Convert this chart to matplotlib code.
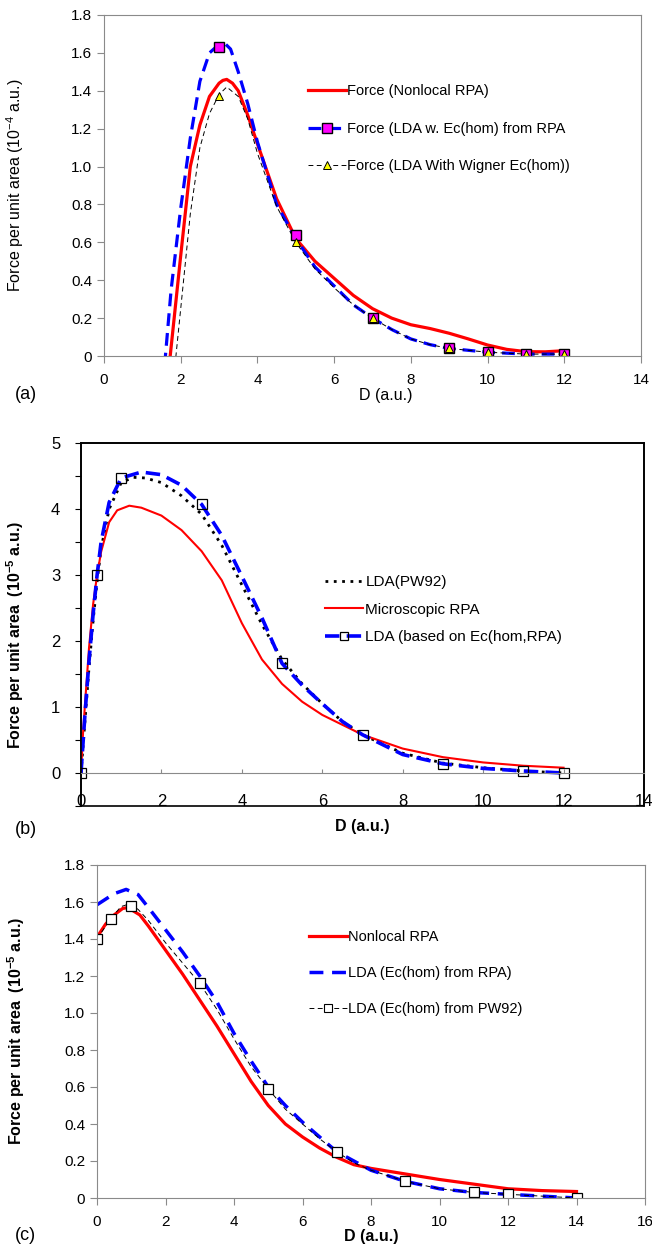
import matplotlib
matplotlib.use("Agg")
import matplotlib.pyplot as plt
from matplotlib.lines import Line2D
from matplotlib.patches import Rectangle
from matplotlib.ticker import MultipleLocator, FuncFormatter

plt.rcParams['font.family'] = ['Liberation Sans', 'DejaVu Sans']
plt.rcParams['mathtext.fontset'] = 'custom'
plt.rcParams['mathtext.rm'] = 'Liberation Sans'
plt.rcParams['mathtext.bf'] = 'Liberation Sans:bold'
plt.rcParams['mathtext.default'] = 'regular'

# ---- panel (a), 10^-4 a.u. ----
red_a_x = [1.7, 2.0, 2.25, 2.5, 2.75, 3.0, 3.1, 3.2, 3.35, 3.5, 3.75, 4.0, 4.5, 5.0, 5.5, 6.0, 6.5,
           7.0, 7.5, 8.0, 8.5, 9.0, 9.5, 10.0, 10.5, 11.0, 11.5, 12.0]
red_a_y = [-0.05, 0.53, 1.0, 1.22, 1.37, 1.44, 1.455, 1.46, 1.44, 1.40, 1.27, 1.12, 0.83, 0.62, 0.50,
           0.41, 0.32, 0.25, 0.20, 0.165, 0.145, 0.12, 0.09, 0.058, 0.035, 0.023, 0.022, 0.028]
blue_a_x = [1.58, 1.75, 2.0, 2.25, 2.5, 2.75, 3.0, 3.15, 3.3, 3.5, 3.75, 4.0, 4.5, 5.0, 5.5,
            6.0, 6.5, 7.0, 7.5, 8.0, 8.5, 9.0, 10.0, 11.0, 12.0]
blue_a_y = [-0.05, 0.35, 0.78, 1.15, 1.45, 1.60, 1.645, 1.65, 1.62, 1.50, 1.33, 1.13, 0.80, 0.62, 0.47,
            0.37, 0.27, 0.20, 0.14, 0.09, 0.06, 0.04, 0.02, 0.01, 0.01]
blue_a_mx = [3, 5, 7, 9, 10, 11, 12]
blue_a_my = [1.63, 0.64, 0.20, 0.04, 0.02, 0.01, 0.01]
wig_a_x = [1.85, 2.0, 2.25, 2.5, 2.75, 3.0, 3.2, 3.5, 3.75, 4.0, 4.5, 5.0, 5.5, 6.0, 6.5,
           7.0, 7.5, 8.0, 8.5, 9.0, 10.0, 11.0, 12.0]
wig_a_y = [-0.05, 0.25, 0.75, 1.10, 1.28, 1.38, 1.42, 1.37, 1.25, 1.07, 0.79, 0.60, 0.46, 0.36, 0.27,
           0.20, 0.14, 0.09, 0.06, 0.04, 0.02, 0.01, 0.01]
wig_a_mx = [3, 5, 7, 9, 10, 11, 12]
wig_a_my = [1.37, 0.60, 0.20, 0.04, 0.02, 0.01, 0.01]

# ---- panel (b), 10^-5 a.u. ----
red_b_x = [0, 0.05, 0.1, 0.2, 0.3, 0.4, 0.5, 0.7, 0.9, 1.2, 1.5, 2.0, 2.5, 3.0, 3.5, 4.0,
           4.5, 5.0, 5.5, 6.0, 7.0, 8.0, 9.0, 10.0, 11.0, 12.0]
red_b_y = [0, 0.6, 1.05, 1.9, 2.55, 3.0, 3.35, 3.8, 3.98, 4.05, 4.02, 3.9, 3.68, 3.36, 2.92, 2.27,
           1.72, 1.35, 1.08, 0.88, 0.58, 0.37, 0.24, 0.16, 0.11, 0.08]
blue_b_x = [0, 0.1, 0.2, 0.3, 0.4, 0.5, 0.7, 1.0, 1.5, 2.0, 2.5, 3.0, 3.5, 4.0, 4.5, 5.0,
            5.5, 6.0, 6.5, 7.0, 8.0, 9.0, 10.0, 11.0, 12.0]
blue_b_y = [0, 0.9, 1.7, 2.4, 3.0, 3.5, 4.1, 4.47, 4.56, 4.52, 4.36, 4.07, 3.6, 2.98, 2.35, 1.66,
            1.33, 1.05, 0.78, 0.58, 0.28, 0.14, 0.07, 0.03, 0.0]
pw_b_x = [0, 0.1, 0.2, 0.3, 0.4, 0.5, 0.7, 1.0, 1.3, 1.6, 2.0, 2.5, 3.0, 3.5, 4.0, 4.5,
          5.0, 5.5, 6.0, 6.5, 7.0, 8.0, 9.0, 10.0, 11.0, 12.0]
pw_b_y = [0, 0.8, 1.6, 2.3, 2.9, 3.4, 4.0, 4.4, 4.48, 4.47, 4.4, 4.2, 3.92, 3.45, 2.85, 2.25,
          1.72, 1.35, 1.05, 0.78, 0.58, 0.30, 0.15, 0.08, 0.03, 0.0]
sq_b_x = [0, 0.4, 1, 3, 5, 7, 9, 11, 12]
sq_b_y = [0, 3.0, 4.47, 4.07, 1.66, 0.58, 0.14, 0.03, 0.0]

# ---- panel (c), 10^-5 a.u. ----
red_c_x = [0, 0.25, 0.5, 0.75, 0.9, 1.25, 1.5, 2, 2.5, 3, 3.5, 4, 4.5, 5, 5.5, 6, 6.5,
           7, 7.5, 8, 9, 10, 11, 12, 13, 14]
red_c_y = [1.41, 1.48, 1.53, 1.565, 1.57, 1.53, 1.47, 1.34, 1.21, 1.07, 0.93, 0.78, 0.63, 0.50,
           0.40, 0.33, 0.27, 0.22, 0.18, 0.16, 0.13, 0.10, 0.075, 0.05, 0.04, 0.035]
blue_c_x = [0, 0.25, 0.5, 0.85, 1.2, 1.5, 2, 2.5, 3, 3.5, 4, 4.5, 5, 5.5, 6, 6.5, 7, 7.5,
            8, 9, 10, 11, 12, 13, 14]
blue_c_y = [1.585, 1.615, 1.645, 1.668, 1.64, 1.57, 1.45, 1.33, 1.20, 1.06, 0.89, 0.74, 0.60,
            0.50, 0.41, 0.33, 0.25, 0.20, 0.15, 0.09, 0.05, 0.03, 0.02, 0.01, 0.0]
pw_c_x = [0, 0.4, 0.7, 0.95, 1.2, 1.5, 2, 2.5, 3, 3.5, 4, 4.5, 5, 5.5, 6, 6.5, 7, 7.5,
          8, 9, 10, 11, 12, 13, 14]
pw_c_y = [1.40, 1.51, 1.575, 1.59, 1.56, 1.50, 1.38, 1.27, 1.16, 1.02, 0.86, 0.71, 0.59,
          0.48, 0.40, 0.32, 0.25, 0.19, 0.15, 0.09, 0.05, 0.03, 0.02, 0.01, 0.0]
sq_c_x = [0, 0.4, 1, 3, 5, 7, 9, 11, 12, 14]
sq_c_y = [1.40, 1.51, 1.58, 1.16, 0.59, 0.25, 0.09, 0.03, 0.02, 0.0]

W, H = 652, 1245
fig = plt.figure(figsize=(W / 100, H / 100), dpi=100)


def box(l, t, r, b):
    return [l / W, 1 - b / H, (r - l) / W, (b - t) / H]


def dec_fmt(v, pos):
    return '0' if abs(v) < 1e-9 else f'{v:.1f}'


grey = '#8a8a8a'

# ================= (a) =================
ax = fig.add_axes(box(104, 15, 641, 356))
ax.plot(red_a_x, red_a_y, color='#ff0000', lw=2.3, solid_capstyle='butt')
ax.plot(blue_a_x, blue_a_y, color='#0000ff', lw=2.3, dashes=(4, 2.2))
ax.plot(wig_a_x, wig_a_y, color='black', lw=0.7, dashes=(5, 3.5))
ax.plot(blue_a_mx, blue_a_my, ls='none', marker='s', ms=7, mfc='#ff00ff', mec='black', mew=1)
ax.plot(wig_a_mx, wig_a_my, ls='none', marker='^', ms=6, mfc='#ffff00', mec='black', mew=0.7)
ax.set_xlim(0, 14)
ax.set_ylim(0, 1.8)
ax.xaxis.set_major_locator(MultipleLocator(2))
ax.yaxis.set_major_locator(MultipleLocator(0.2))
ax.yaxis.set_major_formatter(FuncFormatter(dec_fmt))
for s in ax.spines.values():
    s.set_color(grey)
ax.tick_params(colors=grey, labelcolor='black', labelsize=11, length=5, width=0.8)
ax.tick_params(axis='x', pad=7)
ax.set_ylabel('Force per unit area (10$^{-4}$ a.u.)', fontsize=11.5)
ax.yaxis.set_label_coords(-0.145, 0.5)
ax.set_xlabel('D (a.u.)', fontsize=11.5)
ax.xaxis.set_label_coords(0.525, -0.095)
hs = [Line2D([], [], color='#ff0000', lw=2.3),
      Line2D([], [], color='#0000ff', lw=2.3, dashes=(4, 2.2), marker='s', ms=7,
             mfc='#ff00ff', mec='black'),
      Line2D([], [], color='black', lw=0.7, dashes=(5, 3.5), marker='^', ms=6,
             mfc='#ffff00', mec='black', mew=0.7)]
ax.legend(hs, ['Force (Nonlocal RPA)', 'Force (LDA w. Ec(hom) from RPA',
               'Force (LDA With Wigner Ec(hom))'],
          loc='upper left', bbox_to_anchor=(308 / W, 1 - 84 / H), bbox_transform=fig.transFigure,
          frameon=False, fontsize=10.5, handlelength=2.6, handletextpad=0.1, labelspacing=1.62,
          borderpad=0, borderaxespad=0, numpoints=1)
fig.text(15 / W, 1 - 394 / H, '(a)', fontsize=13, va='center')

# ================= (b) =================
ax = fig.add_axes(box(81, 443, 644, 806))
ax.plot(pw_b_x, pw_b_y, color='black', lw=2, dashes=(1, 2))
ax.plot(red_b_x, red_b_y, color='#ff0000', lw=1.5)
ax.plot(blue_b_x, blue_b_y, color='#0000ff', lw=2.6, dashes=(4, 2))
ax.plot(sq_b_x, sq_b_y, ls='none', marker='s', ms=7, mfc='none', mec='black', mew=0.9)
ax.set_xlim(0, 14)
ax.set_ylim(-0.5, 5)
ax.xaxis.set_major_locator(MultipleLocator(2))
ax.yaxis.set_major_locator(MultipleLocator(1))
ax.yaxis.set_minor_locator(MultipleLocator(0.5))
ax.spines['bottom'].set_position(('data', 0))
ax.spines['bottom'].set_color(grey)
for k in ['left', 'right', 'top']:
    ax.spines[k].set_color('black')
    ax.spines[k].set_linewidth(1.2)
ax.add_patch(Rectangle((0, 0), 1, 1, transform=ax.transAxes, fill=False, ec='black',
                       lw=1.2, clip_on=False))
ax.tick_params(axis='y', which='both', colors='black', labelsize=12, length=4, width=0.8, pad=11)
ax.tick_params(axis='x', colors=grey, labelcolor='black', labelsize=12, length=3, width=0.8,
               direction='in', pad=15)
ax.set_ylabel('Force per unit area  (10$^{\\mathbf{-5}}$ a.u.)', fontsize=11.5,
              fontweight='bold')
ax.yaxis.set_label_coords(-0.097, 0.47)
ax.set_xlabel('D (a.u.)', fontsize=11.5, fontweight='bold')
ax.xaxis.set_label_coords(0.5, -0.037)
hs = [Line2D([], [], color='black', lw=2, dashes=(1, 2)),
      Line2D([], [], color='#ff0000', lw=1.5),
      Line2D([], [], color='#0000ff', lw=2.6, dashes=(4, 2), marker='s', ms=6,
             mfc='none', mec='black', mew=0.9)]
ax.legend(hs, ['LDA(PW92)', 'Microscopic RPA', 'LDA (based on Ec(hom,RPA)'],
          loc='upper left', bbox_to_anchor=(325 / W, 1 - 575 / H), bbox_transform=fig.transFigure,
          frameon=False, fontsize=11, handlelength=2.5, handletextpad=0.15, labelspacing=0.9,
          borderpad=0, borderaxespad=0, numpoints=1)
fig.text(15 / W, 1 - 830 / H, '(b)', fontsize=13, va='center')

# ================= (c) =================
ax = fig.add_axes(box(97, 865, 645, 1198))
ax.plot(red_c_x, red_c_y, color='#ff0000', lw=2.3)
ax.plot(blue_c_x, blue_c_y, color='#0000ff', lw=2.5, dashes=(4, 2.5))
ax.plot(pw_c_x, pw_c_y, color='black', lw=0.7, dashes=(5, 3.5))
ax.plot(sq_c_x, sq_c_y, ls='none', marker='s', ms=6.5, mfc='white', mec='black', mew=0.9)
ax.set_xlim(0, 16)
ax.set_ylim(0, 1.8)
ax.xaxis.set_major_locator(MultipleLocator(2))
ax.yaxis.set_major_locator(MultipleLocator(0.2))
ax.yaxis.set_major_formatter(FuncFormatter(dec_fmt))
for s in ax.spines.values():
    s.set_color(grey)
ax.tick_params(colors=grey, labelcolor='black', labelsize=11, length=5, width=0.8)
ax.tick_params(axis='x', pad=7)
ax.set_ylabel('Force per unit area  (10$^{\\mathbf{-5}}$ a.u.)', fontsize=11.5,
              fontweight='bold')
ax.yaxis.set_label_coords(-0.128, 0.5)
ax.set_xlabel('D (a.u.)', fontsize=11.5, fontweight='bold')
ax.xaxis.set_label_coords(0.5, -0.092)
hs = [Line2D([], [], color='#ff0000', lw=2.3),
      Line2D([], [], color='#0000ff', lw=2.5, dashes=(4, 2.5)),
      Line2D([], [], color='black', lw=0.7, dashes=(5, 3.5), marker='s', ms=5.5,
             mfc='white', mec='black', mew=0.8)]
ax.legend(hs, ['Nonlocal RPA', 'LDA (Ec(hom) from RPA)', 'LDA (Ec(hom) from PW92)'],
          loc='upper left', bbox_to_anchor=(309 / W, 1 - 930 / H), bbox_transform=fig.transFigure,
          frameon=False, fontsize=10.5, handlelength=2.6, handletextpad=0.1, labelspacing=1.5,
          borderpad=0, borderaxespad=0, numpoints=1)
fig.text(15 / W, 1 - 1235 / H, '(c)', fontsize=13, va='center')

fig.savefig('out.png', dpi=100)
